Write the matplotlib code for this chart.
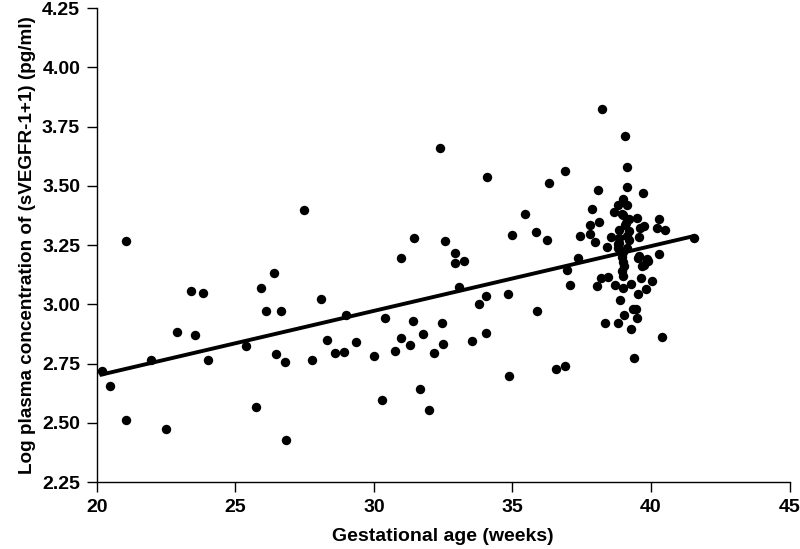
import matplotlib
matplotlib.use("Agg")
import matplotlib.pyplot as plt
import numpy as np

plt.rcParams['font.family'] = ['Liberation Sans', 'DejaVu Sans']

gest_age = [
    20.2, 20.49, 21.05, 21.05, 21.95, 22.5, 22.9, 23.4, 23.83, 23.56,
    24.01, 25.38, 25.74, 25.93, 26.41, 26.1, 26.63, 26.47, 26.78, 26.82,
    27.49, 27.76, 28.1, 28.32, 28.58, 28.93, 28.99, 29.37, 30.02, 30.29,
    30.41, 30.76, 30.97, 30.97, 31.3, 31.4, 31.46, 31.66, 31.76, 31.97,
    32.15, 32.37, 32.47, 32.5, 32.55, 32.94, 32.94, 33.08, 33.26, 33.54,
    33.78, 34.05, 34.05, 34.09, 34.84, 34.86, 34.98, 35.45, 35.84, 35.9,
    36.26, 36.3, 36.58, 36.9, 36.9, 36.96, 37.06, 37.38, 37.43,
    37.81, 37.86, 37.81, 37.99, 38.07, 38.13, 38.23, 38.05, 38.19, 38.43,
    38.34, 38.4, 38.55, 38.65, 38.7, 38.79, 38.79, 38.81, 38.83, 38.83,
    38.88, 38.97, 39.0, 38.99, 39.0, 39.0, 39.03, 39.07, 39.07, 39.15,
    39.15, 39.15, 39.15, 39.15, 39.19, 39.2, 39.27, 39.29, 39.35, 39.39,
    39.5, 39.5, 39.53, 39.56, 39.56, 39.63, 39.71, 39.75, 39.75, 39.9,
    40.02, 39.83, 40.22, 40.28, 40.28, 40.38, 40.5, 41.55,
    38.97, 39.0, 38.99, 39.03, 38.95, 39.09, 39.6, 39.2, 38.84, 38.8,
    39.54, 39.68, 39.44, 39.86,
]
log_svegfr = [
    2.72, 2.657, 3.267, 2.513, 2.766, 2.475, 2.884, 3.055, 3.047, 2.872,
    2.767, 2.823, 2.565, 3.068, 3.134, 2.97, 2.973, 2.79, 2.758, 2.427,
    3.397, 2.764, 3.024, 2.849, 2.795, 2.80, 2.953, 2.84, 2.784, 2.597,
    2.944, 2.804, 3.194, 2.859, 2.829, 2.928, 3.281, 2.644, 2.873, 2.555,
    2.795, 3.661, 2.922, 2.833, 3.267, 3.218, 3.175, 3.075, 3.184, 2.847,
    3.001, 3.035, 2.878, 3.538, 3.044, 2.698, 3.294, 3.383, 3.304, 2.972,
    3.272, 3.511, 2.728, 3.562, 2.74, 3.143, 3.082, 3.196, 3.29,
    3.335, 3.404, 3.298, 3.264, 3.482, 3.347, 3.825, 3.076, 3.111, 3.116,
    2.921, 3.243, 3.285, 3.39, 3.083, 3.42, 3.239, 2.921, 3.312, 3.26,
    3.02, 3.14, 3.119, 3.069, 3.444, 3.376, 2.953, 3.709, 3.333, 3.58,
    3.497, 3.42, 3.287, 3.239, 3.31, 3.359, 2.897, 3.086, 2.982, 2.775,
    3.363, 2.942, 3.044, 3.284, 3.203, 3.111, 3.47, 3.329, 3.168, 3.182,
    3.097, 3.065, 3.321, 3.359, 3.213, 2.861, 3.315, 3.28,
    3.2, 3.22, 3.18, 3.16, 3.38, 3.345, 3.323, 3.27, 3.281, 3.253,
    3.196, 3.164, 2.98, 3.19,
]

# regression line parameters
fit_intercept_at_20 = 2.699
fit_slope = 0.02735

x_ticks = [20, 25, 30, 35, 40, 45]
y_ticks = [2.25, 2.50, 2.75, 3.00, 3.25, 3.50, 3.75, 4.00, 4.25]

fig = plt.figure(figsize=(8.0, 5.49), dpi=100)
ax = fig.add_axes([0.121, 0.122, 0.866, 0.863])

ax.scatter(gest_age, log_svegfr, s=46, color='black', zorder=3, linewidths=0)

xl = np.array([min(gest_age) - 0.1, max(gest_age) + 0.05])
yl = fit_intercept_at_20 + fit_slope * (xl - 20)
ax.plot(xl, yl, color='black', lw=2.8, zorder=2, solid_capstyle='butt')

ax.set_xlim(20, 45)
ax.set_ylim(2.25, 4.25)
ax.set_xticks(x_ticks)
ax.set_xticklabels([str(t) for t in x_ticks])
ax.set_yticks(y_ticks)
ax.set_yticklabels([f"{t:.2f}" for t in y_ticks])

for s in ['top', 'right']:
    ax.spines[s].set_visible(False)
for s in ['left', 'bottom']:
    ax.spines[s].set_linewidth(1.0)

ax.tick_params(axis='both', direction='out', length=7, width=1.0,
               labelsize=14, pad=5)
for lab in ax.get_xticklabels() + ax.get_yticklabels():
    lab.set_fontweight('bold')

ax.set_xlabel('Gestational age (weeks)', fontsize=14, fontweight='bold', labelpad=9)
ax.set_ylabel('Log plasma concentration of (sVEGFR-1+1) (pg/ml)', fontsize=13.6,
              fontweight='bold', labelpad=4)

fig.savefig('out.png', dpi=100)
